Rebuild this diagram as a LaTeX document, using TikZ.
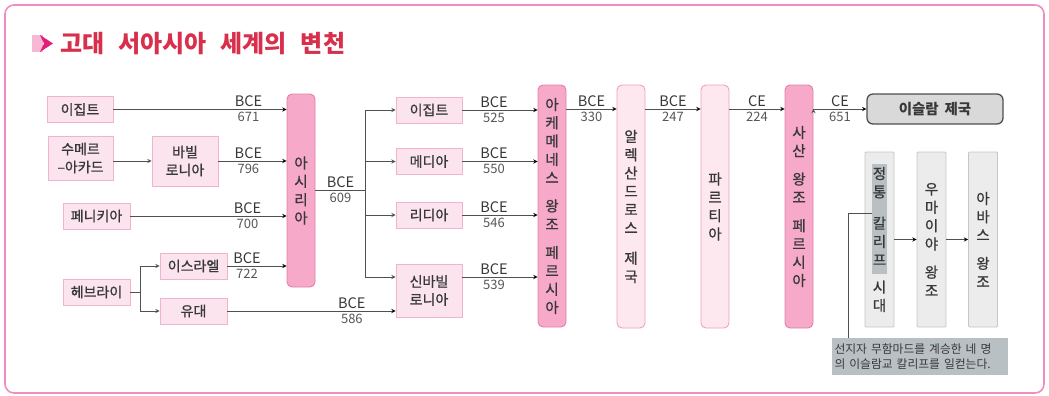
\documentclass[tikz,border=0pt]{standalone}
\usepackage{fontspec}
\setmainfont{Noto Sans CJK KR}
\newfontfamily\boxfont{Noto Sans CJK KR}[FakeBold=0.9]
\definecolor{framepink}{HTML}{F08CBE}
\definecolor{titlered}{HTML}{D8304C}
\definecolor{markmag}{HTML}{E0207A}
\definecolor{markpink}{HTML}{F7B8D4}
\definecolor{boxfill}{HTML}{FCE4EE}
\definecolor{boxline}{HTML}{F2B3CE}
\definecolor{darkfill}{HTML}{F6A9C9}
\definecolor{darkline}{HTML}{E27FA8}
\definecolor{lightfill}{HTML}{FDE8F0}
\definecolor{lightline}{HTML}{EFA0C2}
\definecolor{grayfill}{HTML}{ECECEC}
\definecolor{grayline}{HTML}{C6C6C6}
\definecolor{hlgray}{HTML}{B9C0C4}
\definecolor{txt}{HTML}{383838}
\definecolor{linegray}{HTML}{505050}
\usetikzlibrary{arrows}

\tikzset{
  pbox/.style={draw=boxline,fill=boxfill,line width=.8pt,inner sep=0pt,
    minimum width=66pt,minimum height=26pt,align=center,text=txt,
    font=\boxfont\fontsize{14}{18}\selectfont},
  bar/.style={rounded corners=5pt,line width=.9pt,inner sep=0pt,
    minimum width=28pt,align=center,text=txt,
    font=\boxfont\fontsize{14.5}{18.3}\selectfont},
  darkbar/.style={bar,draw=darkline,fill=darkfill},
  lightbar/.style={bar,draw=lightline,fill=lightfill},
  graybar/.style={bar,rounded corners=1pt,draw=grayline,fill=grayfill,
    minimum width=29pt,minimum height=175pt},
  arr/.style={-stealth,draw=linegray,line width=.9pt},
  bce/.style={above,inner sep=2pt,text=txt,font=\fontsize{14.5}{14}\selectfont},
  yr/.style={below,inner sep=2.5pt,text=txt!85,font=\fontsize{13}{13}\selectfont},
}

\begin{document}
\begin{tikzpicture}[x=1pt,y=-1pt]
  \useasboundingbox (0,0) rectangle (1049,396);
  \draw[framepink,line width=1.6pt,rounded corners=9pt] (5,5) rectangle (1044,393);

  % title
  \fill[markpink] (32,35) rectangle (43,52);
  \fill[markmag] (40,35) -- (53,43.5) -- (40,52) -- (44,43.5) -- cycle;
  \node[anchor=west,inner sep=0pt,text=titlered,font=\fontsize{24}{24}\selectfont\bfseries]
    (title) at (60,44) {고대\hspace{14pt}서아시아\hspace{14pt}세계의\hspace{14pt}변천};

  % first column
  \node[pbox] (egyptA) at (80,109.5) {이집트};
  \node[pbox,minimum width=65pt,minimum height=44pt] (sumer) at (80.5,158) {수메르\\–아카드};
  \node[pbox,minimum height=50pt] (babyl) at (185,161) {바빌\\로니아};
  \node[pbox,minimum width=67pt] (phoen) at (96.5,216) {페니키아};
  \node[pbox,minimum width=67pt] (hebrew) at (96.5,292) {헤브라이};
  \node[pbox,minimum width=67pt] (israel) at (193.5,266) {이스라엘};
  \node[pbox,minimum width=67pt] (judea) at (193.5,311) {유대};
  \node[darkbar,minimum height=193pt] (assyria) at (301,190.5) {아\\시\\리\\아};

  % second column
  \node[pbox] (egyptB) at (429,110) {이집트};
  \node[pbox] (media) at (429,161.5) {메디아};
  \node[pbox] (lydia) at (429,215) {리디아};
  \node[pbox,minimum height=53pt] (newbab) at (429,290.5) {신바빌\\로니아};

  % empires
  \node[darkbar,minimum height=242pt] (achae) at (552,206)
    {아\\케\\메\\네\\스\\[10pt]왕\\조\\[10pt]페\\르\\시\\아};
  \node[lightbar,minimum height=243pt] (alex) at (631,206.5)
    {알\\렉\\산\\드\\로\\스\\[12pt]제\\국};
  \node[lightbar,minimum height=243pt] (parthia) at (715,206.5) {파\\르\\티\\아};
  \node[darkbar,minimum height=243pt] (sasan) at (799,206.5)
    {사\\산\\[10pt]왕\\조\\[10pt]페\\르\\시\\아};
  \node[draw=linegray,fill=black!15,line width=1.3pt,rounded corners=6pt,
    minimum width=136pt,minimum height=30pt,text=txt,
    font=\fontsize{14.5}{18}\selectfont\bfseries] (islam) at (935,109) {이슬람 \,제국};

  % caliphates
  \node[graybar] (rashidun) at (879.5,239.5) {};
  \node[fill=hlgray,minimum width=15pt,minimum height=110pt,inner sep=0pt] (hl) at (879.5,219) {};
  \node[bar] (rashidunTxt) at (rashidun) {정\\통\\[13pt]칼\\리\\프\\[9pt]시\\대};
  \node[graybar] (umayyad) at (931.5,239.5) {우\\마\\이\\야\\[10pt]왕\\조};
  \node[graybar] (abbas) at (983,239.5) {아\\바\\스\\[10pt]왕\\조};
  \node[fill=hlgray,minimum width=175pt,minimum height=37pt,inner sep=3pt,
    text width=170pt,align=left,text=txt,font=\fontsize{11.8}{15}\selectfont]
    (note) at (919.5,356.5) {선지자 무함마드를 계승한 네 명\\의 이슬람교 칼리프를 일컫는다.};

  % connectors
  \coordinate (hsplit) at ([xshift=10pt]hebrew.east);
  \coordinate (asplit) at ([xshift=50pt]assyria.east);
  \coordinate (bend) at (848,213);
  \draw[draw=linegray,line width=.9pt] (hebrew) -- (hsplit);
  \draw[arr] (hsplit) |- (israel);
  \draw[arr] (hsplit) |- (judea);
  \draw[arr] (sumer.east |- babyl) -- (babyl);
  \path[arr]
    (egyptA) edge node[bce,pos=.78] {BCE} node[yr,pos=.78] {671} (egyptA -| assyria.west)
    (babyl) edge node[bce,pos=.44] {BCE} node[yr,pos=.44] {796} (babyl -| assyria.west)
    (phoen) edge node[bce,pos=.75] {BCE} node[yr,pos=.75] {700} (phoen -| assyria.west)
    (israel) edge node[bce,pos=.33] {BCE} node[yr,pos=.33] {722} (israel -| assyria.west)
    (judea) edge node[bce,pos=.74] {BCE} node[yr,pos=.74] {586} (judea -| newbab.west);
  \draw[draw=linegray,line width=.9pt] (assyria.east |- asplit) -- (asplit)
    node[bce,midway] {BCE} node[yr,midway] {609};
  \draw[arr] (asplit) |- (egyptB);
  \draw[arr] (asplit) |- (media);
  \draw[arr] (asplit) |- (lydia);
  \draw[arr] (asplit) |- ([yshift=13.5pt]newbab.west);
  \path[arr]
    (egyptB) edge node[bce,pos=.42] {BCE} node[yr,pos=.42] {525} (egyptB -| achae.west)
    (media) edge node[bce,pos=.42] {BCE} node[yr,pos=.42] {550} (media -| achae.west)
    (lydia) edge node[bce,pos=.42] {BCE} node[yr,pos=.42] {546} (lydia -| achae.west)
    ([yshift=13.5pt]newbab.east) edge node[bce,pos=.42] {BCE} node[yr,pos=.42] {539}
      ([yshift=13.5pt]newbab.east -| achae.west)
    (achae.east |- islam) edge node[bce] {BCE} node[yr] {330} (alex.west |- islam)
    (alex.east |- islam) edge node[bce] {BCE} node[yr] {247} (parthia.west |- islam)
    (parthia.east |- islam) edge node[bce] {CE} node[yr] {224} (sasan.west |- islam)
    (sasan.east |- islam) edge node[bce] {CE} node[yr] {651} (islam)
    (rashidun) edge (umayyad)
    (umayyad) edge (abbas);
  \draw[draw=linegray,line width=.9pt] (hl.west |- bend) -- (bend) -- (bend |- note.north);
\end{tikzpicture}
\end{document}
